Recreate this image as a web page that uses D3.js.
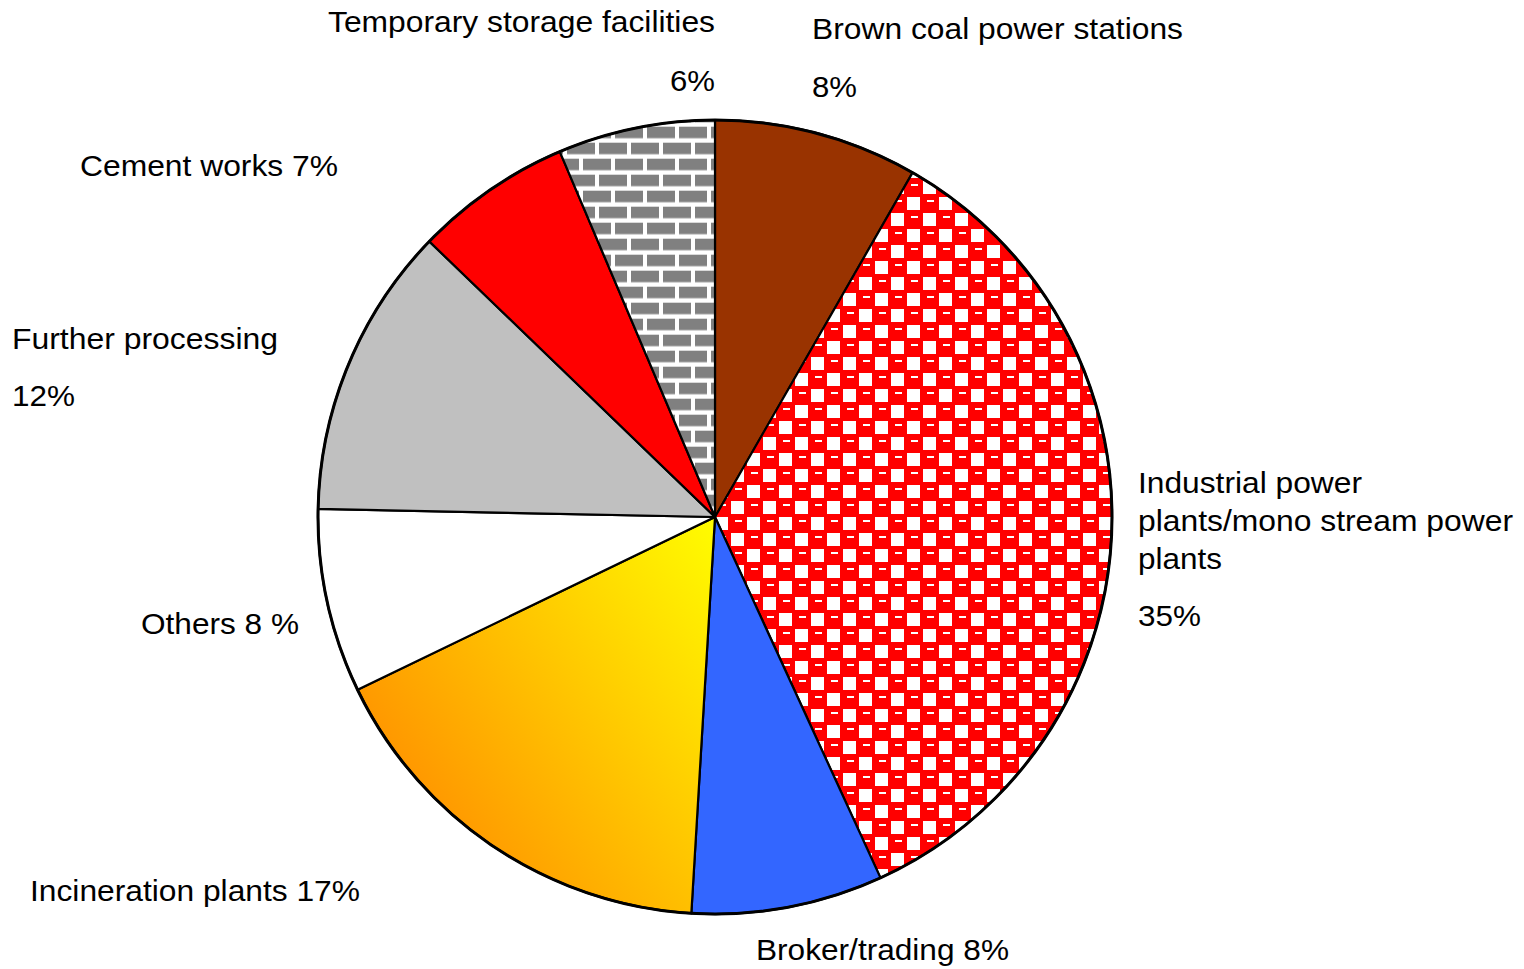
<!DOCTYPE html>
<html><head><meta charset="utf-8">
<script src="https://cdn.jsdelivr.net/npm/d3@7"></script>
<style>
body{margin:0;background:#fff;}
svg{display:block;}
text{font-family:"Liberation Sans",Arial,sans-serif;fill:#000;}
</style>
</head><body>
<svg id="chart" width="1524" height="969"></svg>
<script>
// ---- data ----
const categories = ["Brown coal power stations","Industrial power plants/mono stream power plants","Broker/trading","Incineration plants","Others","Further processing","Cement works","Temporary storage facilities"];
const shares = [8.3, 34.9, 7.8, 16.9, 7.5, 11.9, 6.4, 6.4];
const labelLines = [
  ["Brown coal power stations","8%"],
  ["Industrial power","plants/mono stream power","plants","35%"],
  ["Broker/trading 8%"],
  ["Incineration plants 17%"],
  ["Others 8 %"],
  ["Further processing","12%"],
  ["Cement works 7%"],
  ["Temporary storage facilities","6%"]
];

// ---- layout (positions / styles) ----
const W = 1524, H = 969;
const cx = 715, cy = 517, R = 397;
const fills = ["#993300","url(#checker)","#3366FF","url(#incGrad)","#FFFFFF","#C0C0C0","#FF0000","url(#brick)"];
// per-line: [x, baseline, width, anchor]
const labelLayout = [
  [[812,39,371,"start"],[812,97,45,"start"]],
  [[1138,493,224,"start"],[1138,531,375,"start"],[1138,569,84,"start"],[1138,626,63,"start"]],
  [[756,960,253,"start"]],
  [[30,901,330,"start"]],
  [[141,634,158,"start"]],
  [[12,349,266,"start"],[12,406,63,"start"]],
  [[80,176,258,"start"]],
  [[715,32,387,"end"],[715,91,45,"end"]]
];

const svg = d3.select("#chart");
const defs = svg.append("defs");

// pattern / gradient coordinates are in the pie group's (centred) user space
// checker pattern
const chk = defs.append("pattern").attr("id","checker")
  .attr("patternUnits","userSpaceOnUse").attr("width",32).attr("height",32)
  .attr("x",0).attr("y",0);
chk.append("rect").attr("width",32).attr("height",32).attr("fill","#FF0000");
chk.append("rect").attr("x",0).attr("y",0).attr("width",13).attr("height",13).attr("fill","#fff");
chk.append("rect").attr("x",16).attr("y",16).attr("width",13).attr("height",13).attr("fill","#fff");
chk.append("rect").attr("x",20).attr("y",3).attr("width",7).attr("height",2).attr("fill","#fff");
chk.append("rect").attr("x",4).attr("y",19).attr("width",7).attr("height",2).attr("fill","#fff");

// brick pattern
const brk = defs.append("pattern").attr("id","brick")
  .attr("patternUnits","userSpaceOnUse").attr("width",32).attr("height",32)
  .attr("x",615-cx).attr("y",126.7-cy);
brk.append("rect").attr("width",32).attr("height",32).attr("fill","#fff");
brk.append("rect").attr("x",0).attr("y",0).attr("width",28).attr("height",11.5).attr("fill","#808080");
brk.append("rect").attr("x",16).attr("y",16).attr("width",28).attr("height",11.5).attr("fill","#808080");
brk.append("rect").attr("x",-16).attr("y",16).attr("width",28).attr("height",11.5).attr("fill","#808080");

// incineration gradient
const g = defs.append("linearGradient").attr("id","incGrad")
  .attr("gradientUnits","userSpaceOnUse")
  .attr("x1",302-cx).attr("y1",730-cy).attr("x2",688-cx).attr("y2",464-cy);
g.append("stop").attr("offset","0%").attr("stop-color","#FF8800");
g.append("stop").attr("offset","100%").attr("stop-color","#FFFF00");

const pie = d3.pie().sort(null).value(d => d).startAngle(0).endAngle(2*Math.PI);
const arc = d3.arc().innerRadius(0).outerRadius(R);
const arcs = pie(shares);

const gp = svg.append("g").attr("transform",`translate(${cx},${cy})`);
gp.selectAll("path.slice").data(arcs).join("path")
  .attr("class","slice")
  .attr("d",arc)
  .attr("fill",(d,i)=>fills[i])
  .attr("stroke","#000").attr("stroke-width",2.2).attr("stroke-linejoin","round");
gp.append("circle").attr("r",R).attr("fill","none").attr("stroke","#000").attr("stroke-width",3);

// labels
const gl = svg.append("g");
labelLines.forEach((lines,i)=>{
  lines.forEach((t,j)=>{
    const [x,y,w,anc] = labelLayout[i][j];
    gl.append("text").attr("x",x).attr("y",y)
      .attr("text-anchor",anc)
      .attr("font-size",29)
      .attr("textLength",w).attr("lengthAdjust","spacingAndGlyphs")
      .text(t);
  });
});
</script>
</body></html>
